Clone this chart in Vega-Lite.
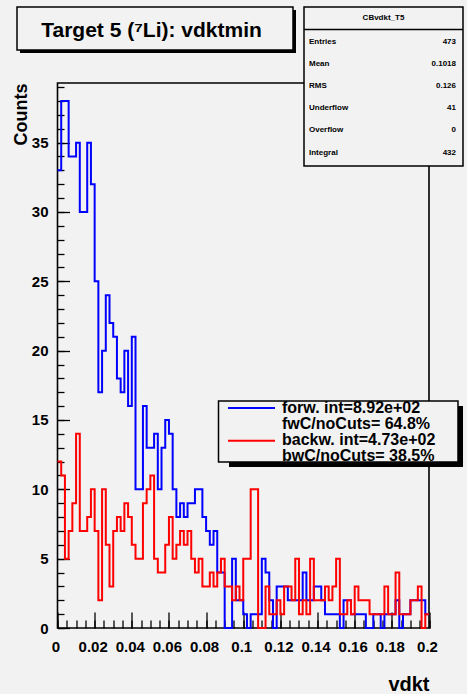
{
  "$schema": "https://vega.github.io/schema/vega-lite/v6.json",
  "width": 371.5,
  "height": 545,
  "autosize": {"type": "none"},
  "padding": {"left": 57.5, "top": 83, "right": 38, "bottom": 66},
  "background": "#f2f2f2",
  "data": {"values": [
    {"lo":0,"fw":33,"bw":12},{"lo":0.002,"fw":38,"bw":11},{"lo":0.004,"fw":38,"bw":5},{"lo":0.006,"fw":34,"bw":7},{"lo":0.008,"fw":34,"bw":9},
    {"lo":0.01,"fw":35,"bw":14},{"lo":0.012,"fw":30,"bw":7},{"lo":0.014,"fw":30,"bw":7},{"lo":0.016,"fw":35,"bw":8},{"lo":0.018,"fw":32,"bw":10},
    {"lo":0.02,"fw":25,"bw":7},{"lo":0.022,"fw":17,"bw":2},{"lo":0.024,"fw":20,"bw":10},{"lo":0.026,"fw":24,"bw":6},{"lo":0.028,"fw":22,"bw":3},
    {"lo":0.03,"fw":21,"bw":7},{"lo":0.032,"fw":18,"bw":8},{"lo":0.034,"fw":17,"bw":7},{"lo":0.036,"fw":20,"bw":9},{"lo":0.038,"fw":16,"bw":8},
    {"lo":0.04,"fw":21,"bw":6},{"lo":0.042,"fw":10,"bw":5},{"lo":0.044,"fw":10,"bw":5},{"lo":0.046,"fw":16,"bw":9},{"lo":0.048,"fw":13,"bw":10},
    {"lo":0.05,"fw":13,"bw":11},{"lo":0.052,"fw":14,"bw":5},{"lo":0.054,"fw":10,"bw":4},{"lo":0.056,"fw":13,"bw":4},{"lo":0.058,"fw":15,"bw":6},
    {"lo":0.06,"fw":14,"bw":8},{"lo":0.062,"fw":10,"bw":5},{"lo":0.064,"fw":8,"bw":6},{"lo":0.066,"fw":9,"bw":7},{"lo":0.068,"fw":8,"bw":6},
    {"lo":0.07,"fw":9,"bw":7},{"lo":0.072,"fw":9,"bw":5},{"lo":0.074,"fw":10,"bw":4},{"lo":0.076,"fw":10,"bw":5},{"lo":0.078,"fw":8,"bw":3},
    {"lo":0.08,"fw":7,"bw":3},{"lo":0.082,"fw":6,"bw":4},{"lo":0.084,"fw":7,"bw":3},{"lo":0.086,"fw":4,"bw":4},{"lo":0.088,"fw":4,"bw":5},
    {"lo":0.09,"fw":0,"bw":3},{"lo":0.092,"fw":0,"bw":3},{"lo":0.094,"fw":5,"bw":2},{"lo":0.096,"fw":2,"bw":3},{"lo":0.098,"fw":2,"bw":2},
    {"lo":0.1,"fw":1,"bw":5},{"lo":0.102,"fw":0,"bw":5},{"lo":0.104,"fw":1,"bw":10},{"lo":0.106,"fw":1,"bw":10},{"lo":0.108,"fw":1,"bw":0},
    {"lo":0.11,"fw":5,"bw":0},{"lo":0.112,"fw":4,"bw":3},{"lo":0.114,"fw":2,"bw":1},{"lo":0.116,"fw":0,"bw":1},{"lo":0.118,"fw":3,"bw":2},
    {"lo":0.12,"fw":3,"bw":1},{"lo":0.122,"fw":3,"bw":3},{"lo":0.124,"fw":2,"bw":3},{"lo":0.126,"fw":2,"bw":2},{"lo":0.128,"fw":2,"bw":5},
    {"lo":0.13,"fw":2,"bw":1},{"lo":0.132,"fw":4,"bw":2},{"lo":0.134,"fw":2,"bw":1},{"lo":0.136,"fw":2,"bw":5},{"lo":0.138,"fw":3,"bw":2},
    {"lo":0.14,"fw":3,"bw":2},{"lo":0.142,"fw":2,"bw":2},{"lo":0.144,"fw":1,"bw":3},{"lo":0.146,"fw":1,"bw":2},{"lo":0.148,"fw":1,"bw":3},
    {"lo":0.15,"fw":1,"bw":5},{"lo":0.152,"fw":0,"bw":1},{"lo":0.154,"fw":2,"bw":1},{"lo":0.156,"fw":2,"bw":2},{"lo":0.158,"fw":1,"bw":1},
    {"lo":0.16,"fw":1,"bw":3},{"lo":0.162,"fw":1,"bw":2},{"lo":0.164,"fw":1,"bw":2},{"lo":0.166,"fw":0,"bw":2},{"lo":0.168,"fw":0,"bw":1},
    {"lo":0.17,"fw":1,"bw":1},{"lo":0.172,"fw":1,"bw":1},{"lo":0.174,"fw":0,"bw":1},{"lo":0.176,"fw":1,"bw":3},{"lo":0.178,"fw":1,"bw":1},
    {"lo":0.18,"fw":1,"bw":1},{"lo":0.182,"fw":2,"bw":4},{"lo":0.184,"fw":0,"bw":1},{"lo":0.186,"fw":1,"bw":1},{"lo":0.188,"fw":1,"bw":1},
    {"lo":0.19,"fw":2,"bw":2},{"lo":0.192,"fw":2,"bw":2},{"lo":0.194,"fw":2,"bw":3},{"lo":0.196,"fw":2,"bw":0},{"lo":0.198,"fw":1,"bw":1},
    {"lo":0.2,"fw":1,"bw":1}
  ]},
  "layer": [
    {
      "mark": {"type": "line", "interpolate": "step-after", "color": "#0000ff", "strokeWidth": 2},
      "encoding": {
        "x": {"field": "lo", "type": "quantitative",
              "scale": {"domain": [0, 0.2], "nice": false, "zero": false},
              "axis": {"orient": "bottom", "values": [0,0.02,0.04,0.06,0.08,0.1,0.12,0.14,0.16,0.18,0.2],
                       "tickSize": -16, "labelPadding": 27.5, "labelOffset": -2,
                       "labelExpr": "format(datum.value, '.2~f')", "labelFlush": false, "labelOverlap": false, "labelBound": false,
                       "title": "vdkt", "titleAnchor": "end", "titleFontSize": 20, "titlePadding": 20}},
        "y": {"field": "fw", "type": "quantitative",
              "scale": {"domain": [0, 39.3], "nice": false, "zero": false},
              "axis": {"orient": "left", "values": [0,5,10,15,20,25,30,35],
                       "tickSize": -12, "labelPadding": 21.5, "labelFlush": false, "labelOverlap": false, "labelBound": false,
                       "title": "Counts", "titleAnchor": "end", "titleFontSize": 18, "titlePadding": 1}}
      }
    },
    {
      "mark": {"type": "line", "interpolate": "step-after", "color": "#ff0000", "strokeWidth": 2},
      "encoding": {
        "x": {"field": "lo", "type": "quantitative",
              "scale": {"domain": [0, 0.2], "nice": false, "zero": false},
              "axis": {"orient": "bottom", "values": [0,0.005,0.01,0.015,0.02,0.025,0.03,0.035,0.04,0.045,0.05,0.055,0.06,0.065,0.07,0.075,0.08,0.085,0.09,0.095,0.1,0.105,0.11,0.115,0.12,0.125,0.13,0.135,0.14,0.145,0.15,0.155,0.16,0.165,0.17,0.175,0.18,0.185,0.19,0.195,0.2],
                       "tickSize": -8, "labels": false, "title": null}},
        "y": {"field": "bw", "type": "quantitative",
              "scale": {"domain": [0, 39.3], "nice": false, "zero": false},
              "axis": {"orient": "left", "values": [0,1,2,3,4,5,6,7,8,9,10,11,12,13,14,15,16,17,18,19,20,21,22,23,24,25,26,27,28,29,30,31,32,33,34,35,36,37,38,39],
                       "tickSize": -6.5, "labels": false, "title": null}}
      }
    },
    {
      "data": {"values": [{}]},
      "mark": {"type": "rect", "fill": "#000000"},
      "encoding": {
        "x": {"datum": -0.020188, "type": "quantitative", "scale": {"domain": [0, 0.2], "nice": false, "zero": false}, "axis": null},
        "x2": {"datum": 0.128398},
        "y": {"datum": 44.563, "type": "quantitative", "scale": {"domain": [0, 39.3], "nice": false, "zero": false}, "axis": null},
        "y2": {"datum": 41.462}
      }
    },
    {
      "data": {"values": [{}]},
      "mark": {"type": "rect", "fill": "#f2f2f2", "stroke": "#000000", "strokeWidth": 1.5},
      "encoding": {
        "x": {"datum": -0.021803, "type": "quantitative", "scale": {"domain": [0, 0.2], "nice": false, "zero": false}, "axis": null},
        "x2": {"datum": 0.126783},
        "y": {"datum": 44.779, "type": "quantitative", "scale": {"domain": [0, 39.3], "nice": false, "zero": false}, "axis": null},
        "y2": {"datum": 41.679}
      }
    },
    {
      "data": {"values": [{}]},
      "mark": {"type": "text", "text": "Target 5 (⁷Li): vdktmin", "font": "Liberation Sans", "fontWeight": "bold", "fontSize": 21, "align": "center", "baseline": "middle", "color": "#000000"},
      "encoding": {
        "x": {"datum": 0.050606, "type": "quantitative", "scale": {"domain": [0, 0.2], "nice": false, "zero": false}, "axis": null},
        "y": {"datum": 43.07, "type": "quantitative", "scale": {"domain": [0, 39.3], "nice": false, "zero": false}, "axis": null}
      }
    },
    {
      "data": {"values": [{}]},
      "mark": {"type": "rect", "fill": "#f2f2f2", "stroke": "#000000", "strokeWidth": 1.5},
      "encoding": {
        "x": {"datum": 0.132707, "type": "quantitative", "scale": {"domain": [0, 0.2], "nice": false, "zero": false}, "axis": null},
        "x2": {"datum": 0.218303},
        "y": {"datum": 44.779, "type": "quantitative", "scale": {"domain": [0, 39.3], "nice": false, "zero": false}, "axis": null},
        "y2": {"datum": 33.314}
      }
    },
    {
      "data": {"values": [{}]},
      "mark": {"type": "rule", "color": "#000000", "strokeWidth": 1.5},
      "encoding": {
        "x": {"datum": 0.132707, "type": "quantitative", "scale": {"domain": [0, 0.2], "nice": false, "zero": false}, "axis": null},
        "x2": {"datum": 0.218303},
        "y": {"datum": 43.157, "type": "quantitative", "scale": {"domain": [0, 39.3], "nice": false, "zero": false}, "axis": null}
      }
    },
    {
      "data": {"values": [{}]},
      "mark": {"type": "text", "text": "CBvdkt_T5", "font": "Liberation Sans", "fontWeight": "bold", "fontSize": 8, "align": "center", "baseline": "middle", "color": "#000000"},
      "encoding": {
        "x": {"datum": 0.175505, "type": "quantitative", "scale": {"domain": [0, 0.2], "nice": false, "zero": false}, "axis": null},
        "y": {"datum": 43.98, "type": "quantitative", "scale": {"domain": [0, 39.3], "nice": false, "zero": false}, "axis": null}
      }
    },
    {
      "data": {"values": [{}]},
      "mark": {"type": "text", "text": ["Entries", "Mean", "RMS", "Underflow", "Overflow", "Integral"], "lineHeight": 22.2, "font": "Liberation Sans", "fontWeight": "bold", "fontSize": 8, "align": "left", "baseline": "top", "color": "#000000"},
      "encoding": {
        "x": {"datum": 0.135399, "type": "quantitative", "scale": {"domain": [0, 0.2], "nice": false, "zero": false}, "axis": null},
        "y": {"datum": 42.573, "type": "quantitative", "scale": {"domain": [0, 39.3], "nice": false, "zero": false}, "axis": null}
      }
    },
    {
      "data": {"values": [{}]},
      "mark": {"type": "text", "text": ["473", "0.1018", "0.126", "41", "0", "432"], "lineHeight": 22.2, "font": "Liberation Sans", "fontWeight": "bold", "fontSize": 8, "align": "right", "baseline": "top", "color": "#000000"},
      "encoding": {
        "x": {"datum": 0.214535, "type": "quantitative", "scale": {"domain": [0, 0.2], "nice": false, "zero": false}, "axis": null},
        "y": {"datum": 42.573, "type": "quantitative", "scale": {"domain": [0, 39.3], "nice": false, "zero": false}, "axis": null}
      }
    },
    {
      "data": {"values": [{}]},
      "mark": {"type": "rect", "fill": "#000000"},
      "encoding": {
        "x": {"datum": 0.092329, "type": "quantitative", "scale": {"domain": [0, 0.2], "nice": false, "zero": false}, "axis": null},
        "x2": {"datum": 0.218303},
        "y": {"datum": 16.008, "type": "quantitative", "scale": {"domain": [0, 39.3], "nice": false, "zero": false}, "axis": null},
        "y2": {"datum": 11.61}
      }
    },
    {
      "data": {"values": [{}]},
      "mark": {"type": "rect", "fill": "#f2f2f2", "stroke": "#000000", "strokeWidth": 1.5},
      "encoding": {
        "x": {"datum": 0.086676, "type": "quantitative", "scale": {"domain": [0, 0.2], "nice": false, "zero": false}, "axis": null},
        "x2": {"datum": 0.215612},
        "y": {"datum": 16.369, "type": "quantitative", "scale": {"domain": [0, 39.3], "nice": false, "zero": false}, "axis": null},
        "y2": {"datum": 11.97}
      }
    },
    {
      "data": {"values": [{}]},
      "mark": {"type": "rule", "color": "#0000ff", "strokeWidth": 2},
      "encoding": {
        "x": {"datum": 0.09179, "type": "quantitative", "scale": {"domain": [0, 0.2], "nice": false, "zero": false}, "axis": null},
        "x2": {"datum": 0.117093},
        "y": {"datum": 15.864, "type": "quantitative", "scale": {"domain": [0, 39.3], "nice": false, "zero": false}, "axis": null}
      }
    },
    {
      "data": {"values": [{}]},
      "mark": {"type": "rule", "color": "#ff0000", "strokeWidth": 2},
      "encoding": {
        "x": {"datum": 0.09179, "type": "quantitative", "scale": {"domain": [0, 0.2], "nice": false, "zero": false}, "axis": null},
        "x2": {"datum": 0.117093},
        "y": {"datum": 13.506, "type": "quantitative", "scale": {"domain": [0, 39.3], "nice": false, "zero": false}, "axis": null}
      }
    },
    {
      "data": {"values": [{}]},
      "mark": {"type": "text", "text": ["forw. int=8.92e+02", "fwC/noCuts= 64.8%", "backw. int=4.73e+02", "bwC/noCuts= 38.5%"], "lineHeight": 16, "font": "Liberation Sans", "fontWeight": "bold", "fontSize": 16, "align": "left", "baseline": "top", "color": "#000000"},
      "encoding": {
        "x": {"datum": 0.120862, "type": "quantitative", "scale": {"domain": [0, 0.2], "nice": false, "zero": false}, "axis": null},
        "y": {"datum": 16.44, "type": "quantitative", "scale": {"domain": [0, 39.3], "nice": false, "zero": false}, "axis": null}
      }
    }
  ],
  "resolve": {"scale": {"x": "shared", "y": "shared"}, "axis": {"x": "independent", "y": "independent"}},
  "config": {
    "view": {"stroke": "#000000", "strokeWidth": 1.6, "fill": "#f2f2f2"},
    "axis": {"domain": false, "grid": false, "tickColor": "#000000", "tickWidth": 1.3,
             "labelFont": "Liberation Sans", "labelFontWeight": "bold", "labelFontSize": 15, "labelColor": "#000000",
             "titleFont": "Liberation Sans", "titleFontWeight": "bold", "titleColor": "#000000"}
  }
}
